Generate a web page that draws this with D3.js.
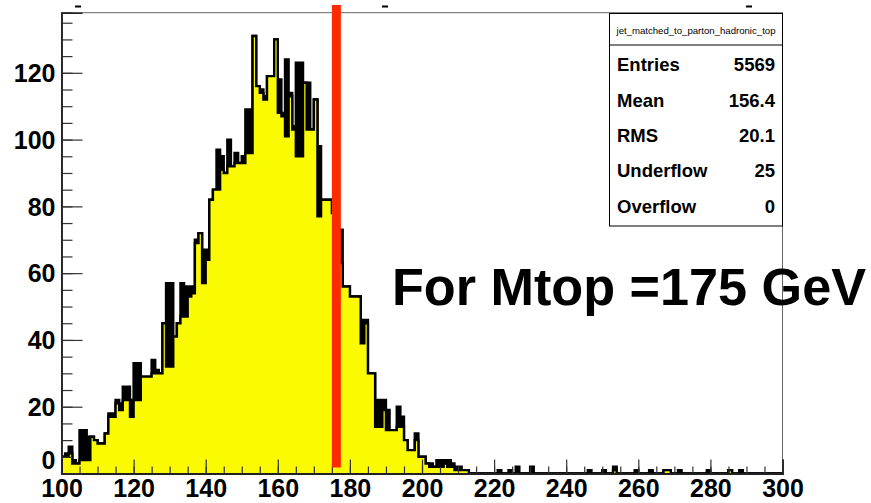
<!DOCTYPE html>
<html>
<head>
<meta charset="utf-8">
<script src="https://cdn.jsdelivr.net/npm/d3@7"></script>
<style>
  html, body { margin: 0; padding: 0; background: #ffffff; }
  svg { display: block; }
  text { font-family: "Liberation Sans", Arial, Helvetica, sans-serif; }
</style>
</head>
<body>
<svg id="chart" width="871" height="503"></svg>
<script>
// ---------------- data ----------------
const binLow = 100;          // first bin lower edge (GeV)
const binWidth = 1;          // bin width (GeV)
// outline (black) histogram, counts per 1 GeV bin from 100 to 300
const countsOutline = [
  5,6,8,4,3,13,13,11,11,10,
  9,9,12,18,18,22,21,26,26,22,
  33,33,29,29,29,34,31,30,45,57,
  57,41,45,57,56,56,56,70,72,67,
  67,82,85,97,95,90,100,92,96,93,
  95,109,109,131,116,115,113,119,119,130,
  118,108,124,114,104,123,123,117,117,103,
  112,98,82,82,82,78,72,73,56,56,
  53,53,53,46,46,30,30,22,22,22,
  19,13,13,20,17,10,7,7,12,5,
  5,3,3,2,4,4,4,4,3,2,
  2,1,1,0,0,0,0,0,0,0,
  0,1,0,0,1,0,2,0,0,0,
  2,0,0,0,0,0,0,0,0,0,
  0,0,0,0,0,0,1,0,0,0,
  1,0,0,2,0,0,0,0,0,1,
  0,0,0,1,0,0,0,1,1,0,
  0,1,0,0,0,0,0,0,0,1,
  0,0,0,0,0,1,0,0,1,0,
  0,0,0,0,0,0,0,0,0,0
];
// yellow filled histogram
const countsFilled = [
  5,5,6,3,3,4,4,4,11,10,
  9,9,12,17,17,21,19,22,22,17,
  22,22,29,29,29,30,30,30,45,32,
  32,41,45,47,47,53,54,69,72,57,
  64,82,85,85,91,90,92,92,93,93,
  93,96,96,131,116,114,112,119,119,130,
  108,107,101,113,103,95,95,117,103,103,
  112,77,82,82,82,78,72,63,56,56,
  53,53,53,39,45,30,30,14,14,19,
  13,13,13,14,14,10,7,7,10,5,
  5,3,2,2,2,2,3,2,2,1,
  1,1,1,0,0,0,0,0,0,0,
  0,0,0,0,0,0,0,0,0,0,
  0,0,0,0,0,0,0,0,0,0,
  0,0,0,0,0,0,0,0,0,0,
  0,0,0,1,0,0,0,0,0,0,
  0,0,0,0,0,0,0,1,1,0,
  0,0,0,0,0,0,0,0,0,0,
  0,0,0,0,0,1,0,0,0,0,
  0,0,0,0,0,0,0,0,0,0
];
const xMajorTicks = [100,120,140,160,180,200,220,240,260,280,300];
const yMajorTicks = [0,20,40,60,80,100,120];
const histTitle = "jet_matched_to_parton_hadronic_top";
const statLabels = ["Entries","Mean","RMS","Underflow","Overflow"];
const statValues = ["5569","156.4","20.1","25","0"];
const markerValue = 175;
const annotation = "For Mtop =175 GeV";

// ---------------- drawing ----------------
const svg = d3.select("#chart");
const x = d3.scaleLinear().domain([100, 300]).range([61.5, 782.5]);
const y = d3.scaleLinear().domain([0, 138]).range([473.5, 12.7]);

function stepPoints(counts) {
  const pts = counts.map((c, i) => ({e: binLow + i * binWidth, c}));
  pts.push({e: binLow + counts.length * binWidth, c: counts[counts.length - 1]});
  return pts;
}
const area = d3.area().curve(d3.curveStepAfter)
  .x(d => x(d.e)).y0(y(0)).y1(d => y(d.c));
const line = d3.line().curve(d3.curveStepAfter)
  .x(d => x(d.e)).y(d => y(d.c));

// leftover title fragments above the frame
[78, 385, 749].forEach(px => {
  svg.append("rect").attr("x", px - 3).attr("y", 5.5).attr("width", 6).attr("height", 2).attr("fill", "#000");
});

const plot = svg.append("g");
// black histogram (filled) underneath
plot.append("path").datum(stepPoints(countsOutline))
  .attr("d", area).attr("fill", "#000");
plot.append("path").datum(stepPoints(countsOutline))
  .attr("d", line).attr("fill", "none").attr("stroke", "#000").attr("stroke-width", 2.4);
// yellow filled histogram
plot.append("path").datum(stepPoints(countsFilled))
  .attr("d", area).attr("fill", "#fafa00");
plot.append("path").datum(stepPoints(countsFilled))
  .attr("d", line).attr("fill", "none").attr("stroke", "#000").attr("stroke-width", 2.4);

// frame
svg.append("rect").attr("x", x(100)).attr("y", y(138)).attr("width", x(300) - x(100)).attr("height", y(0) - y(138))
  .attr("fill", "none").attr("stroke", "#666").attr("stroke-width", 1);

// x axis: minor + major ticks
const xMinor = d3.range(100, 301, 5);
const gxMinor = svg.append("g").attr("transform", `translate(0,${y(0)})`)
  .call(d3.axisBottom(x).tickValues(xMinor).tickSize(-7).tickFormat(""));
const gx = svg.append("g").attr("transform", `translate(0,${y(0)})`)
  .call(d3.axisBottom(x).tickValues(xMajorTicks).tickSize(-14).tickFormat(d3.format("d")));
[gxMinor, gx].forEach(g => {
  g.select(".domain").attr("stroke", "#222").attr("stroke-width", 2);
  g.selectAll(".tick line").attr("stroke", "#333").attr("stroke-width", 1.2);
});
gx.selectAll(".tick text").attr("fill", "#000").attr("font-size", 25).attr("font-weight", "bold")
  .attr("font-family", "Liberation Sans, Arial, sans-serif").attr("dy", null).attr("y", 23.5);

// y axis
const yMinor = d3.range(0, 138, 5);
const gyMinor = svg.append("g").attr("transform", `translate(${x(100)},0)`)
  .call(d3.axisLeft(y).tickValues(yMinor).tickSize(-11).tickFormat(""));
const gy = svg.append("g").attr("transform", `translate(${x(100)},0)`)
  .call(d3.axisLeft(y).tickValues(yMajorTicks).tickSize(-21).tickFormat(d3.format("d")));
[gyMinor, gy].forEach(g => {
  g.select(".domain").attr("stroke", "#222").attr("stroke-width", 1.5);
  g.selectAll(".tick line").attr("stroke", "#333").attr("stroke-width", 1.2);
});
gy.selectAll(".tick text").attr("fill", "#000").attr("font-size", 25).attr("font-weight", "bold")
  .attr("font-family", "Liberation Sans, Arial, sans-serif")
  .attr("x", -6).attr("y", d => d === 0 ? -13.5 : 0).attr("dy", "0.35em");

// red marker line
svg.append("rect").attr("x", x(markerValue)).attr("y", 5).attr("width", 9)
  .attr("height", y(0) - 6 - 5).attr("fill", "#ff2a00");

// stats box
const bx = 609.5, by = 13.5, bw = 173, bh = 212.5;
const stats = svg.append("g");
stats.append("rect").attr("x", bx).attr("y", by).attr("width", bw).attr("height", bh)
  .attr("fill", "#fff").attr("stroke", "#000").attr("stroke-width", 1);
stats.append("line").attr("x1", bx).attr("x2", bx + bw).attr("y1", 45).attr("y2", 45)
  .attr("stroke", "#000").attr("stroke-width", 1);
stats.append("text").attr("x", bx + bw / 2).attr("y", 34).attr("text-anchor", "middle")
  .attr("font-size", 9.6).attr("fill", "#000").text(histTitle);
const rowY = [71, 106.5, 141.5, 177, 212.5];
statLabels.forEach((lab, i) => {
  stats.append("text").attr("x", 617).attr("y", rowY[i]).attr("font-size", 18.5)
    .attr("font-weight", "bold").attr("fill", "#000").text(lab);
  stats.append("text").attr("x", 775).attr("y", rowY[i]).attr("font-size", 18.5)
    .attr("font-weight", "bold").attr("text-anchor", "end").attr("fill", "#000").text(statValues[i]);
});

// annotation
svg.append("text").attr("x", 392).attr("y", 305).attr("font-size", 51).attr("font-weight", "bold")
  .attr("fill", "#000").attr("textLength", 474).attr("lengthAdjust", "spacingAndGlyphs").text(annotation);
</script>
</body>
</html>
